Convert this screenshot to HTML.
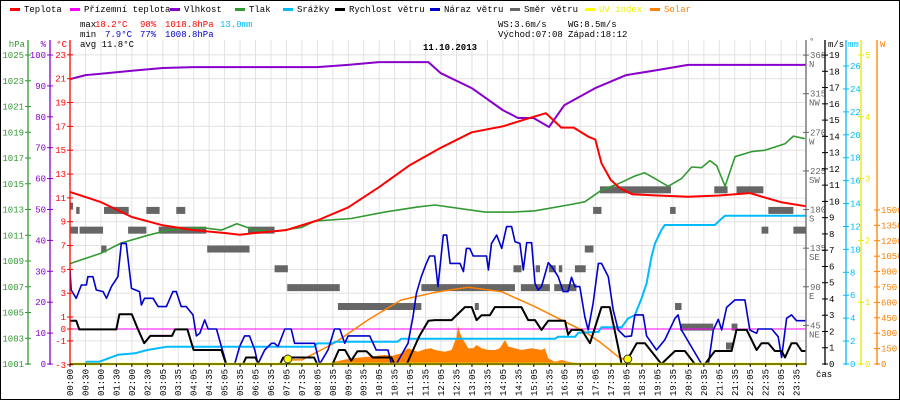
<!DOCTYPE html>
<html><head><meta charset="utf-8"><style>
body{margin:0;background:#fff}
#wrap{position:relative;width:898px;height:398px;border:1px solid #000;overflow:hidden;background:#fff}
svg text{font-family:"Liberation Mono","DejaVu Sans Mono",monospace;font-size:9px}
</style></head><body>
<div id="wrap">
<svg id="c" width="900" height="400" viewBox="0 0 900 400" style="position:absolute;left:-1px;top:-1px"></svg>
</div>
<script>
// ---- data ----
const timeLabels=["00:00","00:30","01:00","01:30","02:00","02:30","03:05","03:35","04:05","04:35","05:05","05:35","06:05","06:35","07:05","07:35","08:05","08:35","09:05","09:35","10:05","10:35","11:05","11:35","12:05","12:35","13:05","13:35","14:05","14:35","15:05","15:35","16:05","16:35","17:05","17:35","18:05","18:35","19:05","19:35","20:05","20:35","21:05","21:35","22:05","22:35","23:05","23:35"];
const tempH=[0,1,2,3,4,5,5.5,6,7,8,9,10,11,12,13,14,15,15.4,15.9,16.3,16.8,17.0,17.2,17.5,17.8,18.2,19,20,21,22,23,23.8];
const tempV=[11.5,10.65,9.4,8.7,8.3,8.05,7.9,8.05,8.3,9.1,10.2,11.9,13.75,15.2,16.5,17.0,17.8,18.1,16.9,16.9,16.1,15.9,13.9,12.5,11.8,11.3,11.2,11.1,11.2,11.4,10.65,10.3];
const appH=[0,23.8];
const appV=[0,0];
const humH=[0,0.5,1,2,3,4,5,6,7,8,9,10,11,11.6,12,13,14,14.5,15,15.5,16,17,18,19,20,23.8];
const humV=[92.2,93.5,93.9,94.9,95.8,96.1,96.1,96.1,96.1,96.1,96.8,97.7,97.7,97.7,94.1,89.3,82.2,79.6,79.6,76.7,83.8,89.3,93.5,95.1,96.8,96.8];
const presH=[0,1,1.66,2.52,3.17,4.25,4.9,5.4,5.98,6.6,7.49,7.92,9.1,10.18,11.26,11.81,13.43,14.35,15.05,16.12,16.66,17.2,17.74,18.28,18.6,18.93,19.36,19.79,20.12,20.44,20.71,20.93,21.2,21.52,22.06,22.49,23.14,23.41,23.78];
const presV=[1008.8,1009.6,1010.4,1011.0,1011.4,1011.6,1011.4,1011.9,1011.4,1011.3,1011.6,1012.1,1012.3,1012.8,1013.2,1013.35,1012.8,1012.8,1012.9,1013.35,1013.6,1014.5,1015.0,1015.6,1015.85,1015.4,1014.8,1015.4,1016.3,1016.25,1016.8,1016.4,1014.8,1017.1,1017.5,1017.6,1018.1,1018.7,1018.5];
const rainH=[0.48,0.55,0.95,1.55,2.1,2.5,3.15,4.0,7.9,8.0,8.5,8.6,10.6,10.72,11.81,15.7,15.8,16.35,16.45,17.1,17.2,17.85,18.06,18.28,18.5,18.66,18.82,18.93,19.14,19.25,20.87,21.09,21.2,23.8];
const rainV=[0,0.2,0.2,0.8,0.93,1.22,1.51,1.51,1.51,1.8,1.8,1.95,1.95,2.2,2.2,2.2,2.38,2.38,2.73,2.8,3.2,3.2,3.98,4.27,5.73,7.04,9.36,10.5,11.7,12.13,12.13,12.7,12.94,12.94];
const wsH=[0,0.2,0.3,1.5,1.6,2.0,2.2,2.4,2.6,3.3,3.4,3.8,4.0,4.9,5.05,5.6,5.7,6.0,6.1,6.8,6.9,7.9,8.0,8.5,8.7,8.9,9.1,9.3,9.6,9.8,10.4,10.5,10.9,11.3,11.6,11.81,12.35,12.78,13.0,13.16,13.32,13.59,13.75,14.61,14.83,15.05,15.26,15.48,16.02,16.12,16.23,16.56,16.83,17.2,17.47,17.69,17.85,17.96,18.34,18.61,19.14,19.58,19.9,20.22,20.55,20.87,21.41,21.57,21.9,22.22,22.38,22.6,22.81,23.03,23.14,23.35,23.51,23.68,23.8];
const wsV=[2.66,2.66,2.13,2.13,3.06,3.06,2.13,1.28,1.73,1.73,2.13,2.13,0.86,0.86,0,0,0.4,0.4,0,0,0.4,0.4,0,0,0.86,0.86,0.2,0.78,0.78,0.4,0.4,0,0,1.7,2.66,2.7,2.7,3.5,3.5,2.7,3.0,3.0,3.5,3.5,2.7,2.7,2.1,2.66,2.66,1.8,2.1,2.1,1.28,3.5,3.5,1.5,0,0,1.28,1.28,0,0.8,0.8,0,0,0.8,0.8,2.1,2.1,0.86,1.28,1.28,0.8,0.8,0.4,1.28,1.28,0.8,0.8];
const wgH=[0,0.04,0.2,0.37,0.53,0.58,0.74,0.85,1.07,1.18,1.34,1.55,1.66,1.82,1.99,2.25,2.31,2.41,2.69,2.85,3.12,3.33,3.44,3.6,3.76,3.98,4.09,4.2,4.36,4.47,4.74,4.9,5.06,5.33,5.49,5.65,5.81,5.98,6.08,6.3,6.52,6.62,6.73,6.95,7.16,7.27,7.92,8.08,8.35,8.56,8.73,8.89,9.0,9.7,9.91,10.29,10.4,10.56,10.94,11.1,11.21,11.37,11.53,11.64,11.8,11.91,12.08,12.19,12.3,12.62,12.73,12.83,12.94,13.05,13.48,13.54,13.64,13.81,13.91,13.97,14.13,14.29,14.4,14.56,14.67,14.78,14.94,15.05,15.15,15.26,15.48,15.59,15.8,15.96,16.12,16.23,16.34,16.5,16.66,16.77,16.93,17.1,17.2,17.42,17.58,17.74,17.96,18.17,18.28,18.55,18.66,18.98,19.25,19.58,19.68,19.79,20.17,20.44,20.66,20.82,20.98,21.09,21.25,21.52,21.84,22.0,22.22,22.27,22.71,22.92,23.03,23.19,23.35,23.51,23.8];
const wgV=[5.78,4.55,4.04,4.86,4.86,5.37,5.37,4.55,4.45,4.04,4.76,5.37,7.42,7.42,4.65,4.45,3.63,4.04,4.04,3.53,3.53,4.45,4.45,3.53,3.53,3.02,1.73,1.89,2.71,2.15,2.15,1.07,0,0,1.07,1.73,1.73,0.86,0,0.86,1.27,1.27,1.07,2.15,2.15,1.27,1.27,0,0.86,2.15,2.15,1.27,1.73,1.73,0.86,0.86,0,0,1.27,2.91,4.35,5.37,6.19,6.64,6.64,4.76,7.93,7.93,6.19,6.19,5.68,7.11,7.11,6.64,6.64,5.78,7.42,7.93,7.42,7.11,8.45,8.45,7.52,7.42,5.78,7.46,7.46,4.96,4.55,4.76,6.23,5.99,5.37,4.45,4.45,5.33,4.76,4.76,2.91,2.09,3.73,6.19,6.19,5.37,3.32,2.09,1.68,1.73,3.02,3.02,1.73,0.86,1.48,2.81,3.02,2.09,0.86,0,0,2.09,2.75,2.09,3.48,3.94,3.94,2.09,1.89,2.15,2.15,1.68,0.4,2.81,3.02,2.66,2.66];
const solarH=[7.49,8.35,8.56,9.1,9.64,10.18,10.45,10.72,10.94,11.26,11.48,11.69,11.81,12.13,12.35,12.51,12.56,12.62,12.73,12.89,13.05,13.16,13.32,13.54,13.75,13.91,14.08,14.18,14.4,14.61,14.94,15.26,15.37,15.48,15.69,15.91,16.12,16.34,16.56,16.99,17.42,17.47];
const solarV=[0,5,22,55,71,88,80,104,153,120,143,153,136,120,136,266,370,299,234,153,153,185,153,136,136,153,234,170,153,136,153,136,153,55,22,39,22,12,7,4,3,0];
const solTheoH=[7.05,7.5,8.56,9.64,10.72,11.91,12.89,13.97,15.05,16.12,16.66,17.2,17.74,18.1];
const solTheoV=[40,40,204,428,623,704,747,704,558,396,315,202,71,20];
const uvH=[0,23.8];
const uvV=[0,0];
const dirStart=[0,0.2,1.1,2.47,3.44,0.02,0.31,1.88,2.87,5.76,1.01,4.44,6.62,7.03,11.37,8.67,17.15,20.85,21.57,16.93,19.42,22.6,22.38,23.41,16.66,14.35,15.07,15.5,15.82,16.34,11.81,14.59,15.67,13.1,19.58,19.74,21.41,21.23];
const dirEnd=[0.1,0.31,1.9,2.9,3.73,0.26,1.07,2.47,4.41,6.62,1.18,5.81,7.05,8.73,11.91,11.37,19.45,21.28,22.44,17.2,19.6,23.41,22.6,23.84,16.94,14.61,15.21,15.72,15.93,16.69,14.4,15.53,16.39,13.23,19.79,20.82,21.6,21.44];
const dirDeg=[184,179,179,179,179,156,156,156,156,156,134,134,111,89,89,67,203,203,203,179,179,179,156,156,134,111,111,111,111,111,89,89,89,67,67,43,43,21];
const sunEvents=[7.05,18.05];
const hpaTicks=[1001,1003,1005,1007,1009,1011,1013,1015,1017,1019,1021,1023,1025];
const humTicks=[0,10,20,30,40,50,60,70,80,90,100];
const tTicks=[23,21,19,17,15,13,11,9,7,5,3,1,0,-1,-3];
const dirTicks=[45,90,135,180,225,270,315,360];
const dirNames=["NE","E","SE","S","SW","W","NW","N"];
const msTicks=[0,1,2,3,4,5,6,7,8,9,10,11,12,13,14,15,16,17,18,19];
const mmTicks=[0,2,4,6,8,10,12,14,16,18,20,22,24,26];
const uvTicks=[0,1,2,3,4,5];
const wTicks=[0,150,300,450,600,750,900,1050,1200,1350,1500];

// ---- scales ----
const X0=70,X1=806;
const xH=h=>Math.min(X1,X0+h*30.9);
const xI=i=>X0+i*15.46;
const yT=t=>329-t*11.92;
const yP=p=>364-(p-1001)*12.875;
const yHu=v=>364-v*3.09;
const yMs=v=>364-v*16.26;
const yMm=v=>364-v*11.46;
const yUv=v=>364-v*61.8;
const ySol=v=>364-v*0.1027;
const yDir=d=>364-d*0.858;

const svg=document.getElementById('c');
const NS='http://www.w3.org/2000/svg';
function mk(tag,attrs,parent){const e=document.createElementNS(NS,tag);for(const k in attrs)e.setAttribute(k,attrs[k]);(parent||svg).appendChild(e);return e;}
function txt(x,y,s,fill,anchor,extra){const e=mk('text',Object.assign({x:x,y:y,fill:fill||'#000','text-anchor':anchor||'start'},extra||{}));e.textContent=s;return e;}

// grid
const grid=mk('g',{});


timeLabels.forEach((l,i)=>{const ln=mk('line',{x1:xI(i),x2:xI(i),y1:40,y2:364,stroke:'#e4e0e0','stroke-width':1},grid);

});
tTicks.forEach(t=>{if(t===0)return;const ln=mk('line',{x1:X0,x2:X1,y1:yT(t),y2:yT(t),stroke:'#e4e0e0','stroke-width':1},grid);

});

// clip
const defs=mk('defs',{});
const cp=mk('clipPath',{id:'pc'},defs);mk('rect',{x:X0,y:40,width:X1-X0,height:326},cp);
const plot=mk('g',{'clip-path':'url(#pc)'});



function pts(H,V,ys){return H.map((h,i)=>xH(h).toFixed(1)+','+ys(V[i]).toFixed(1)).join(' ');}

// solar area
const sa=mk('polygon',{points:xH(solarH[0])+',364 '+pts(solarH,solarV,ySol)+' '+xH(solarH[solarH.length-1])+',364',fill:'#ff8000'},plot);



// wind direction bars
dirDeg.forEach((d,i)=>{const r=mk('rect',{x:xH(dirStart[i]),y:yDir(d)-3.5,width:Math.max(3,xH(dirEnd[i])-xH(dirStart[i])),height:7,fill:'#666'},plot);

});

function series(H,V,ys,color,w,name){const p=mk('polyline',{points:pts(H,V,ys),fill:'none',stroke:color,'stroke-width':w,'stroke-linejoin':'round'},plot);

return p;}
series(appH,appV,yT,'#ff00ff',1,'apparent-temperature-line');
series(solTheoH,solTheoV,ySol,'#ff8000',1.5,'solar-theoretical-line');
series(rainH,rainV,yMm,'#00bbff',2,'precipitation-line');
series(presH,presV,yP,'#339933',1.6,'pressure-line');
series(humH,humV,yHu,'#8800cc',2,'humidity-line');
series(tempH,tempV,yT,'#ff0000',2,'temperature-line');
series(wgH,wgV,yMs,'#0000cc',1.6,'wind-gust-line');
series(wsH,wsV,yMs,'#000000',2,'wind-speed-line');
series(uvH,uvV,yUv,'#ffff00',2.5,'uv-index-line');
sunEvents.forEach(h=>{const c=mk('circle',{cx:xH(h),cy:359,r:4,fill:'#ffff00',stroke:'#333','stroke-width':1});

});

// axes
function axis(x,color,ticks,yf,side,name,fmt){const g=mk('g',{});


mk('line',{x1:x,x2:x,y1:40,y2:365,stroke:color,'stroke-width':1.3},g);
ticks.forEach((t,i)=>{const y=yf(t);mk('line',{x1:x-3,x2:x+3,y1:y,y2:y,stroke:color},g);
const s=fmt?fmt(t,i):String(t);
if(side==='l')txt(x-4,y+3,s,color,'end');else txt(x+4,y+3,s,color,'start');});return g;}
axis(28,'#339933',hpaTicks,yP,'l','pressure-axis');
axis(50,'#8800cc',humTicks,yHu,'l','humidity-axis');
axis(70,'#ff0000',tTicks,yT,'l','temperature-axis');
axis(806,'#666',dirTicks,yDir,'r','wind-direction-axis');
dirTicks.forEach((d,i)=>{txt(809,yDir(d)+12,dirNames[i],'#666','start');});
axis(825,'#000',msTicks,yMs,'r','wind-speed-axis');
axis(846,'#00bbff',mmTicks,yMm,'r','precipitation-axis');
axis(861,'#e8e800',uvTicks,yUv,'r','uv-axis');
axis(877,'#ff8000',wTicks,ySol,'r','solar-axis');
txt(25,47,'hPa','#339933','end');txt(46,47,'%','#8800cc','end');txt(67,47,'°C','#ff0000','end');
txt(809,44,'°','#666');txt(828,47,'m/s','#000');txt(848,47,'mm','#00bbff');txt(880,47,'W','#ff8000');
txt(816,377,'čas','#000');
mk('line',{x1:X0,x2:X1,y1:364,y2:364,stroke:'#000','stroke-width':1});

// x labels
timeLabels.forEach((l,i)=>{const x=xI(i);mk('line',{x1:x,x2:x,y1:364,y2:367,stroke:'#000'});
const t=txt(0,0,l,'#000','end',{transform:'translate('+(x+3)+',369) rotate(-90)'});

});

// legend
const leg=[['Teplota','#ff0000',10],['Přízemní teplota','#ff00ff',70],['Vlhkost','#8800cc',170],['Tlak','#339933',235],['Srážky','#00bbff',283],['Rychlost větru','#000',335],['Náraz větru','#0000cc',430],['Směr větru','#666',510],['UV index','#ffff00',585],['Solar','#ff8000',650]];
leg.forEach(([n,c,x])=>{const g=mk('g',{});


mk('rect',{x:x,y:8,width:10,height:3,fill:c},g);
const t=txt(x+14,12,n,'#000','start');g.appendChild(t);
if(c==='#ffff00')t.setAttribute('fill','#f0f000');if(c==='#ff8000')t.setAttribute('fill','#ff8000');});

// stats
const st=mk('g',{});


function tl(x,y,s,c){const t=txt(x,y,s,c);st.appendChild(t);}
tl(80,27,'max','#000');tl(95,27,'18.2°C','#ff0000');tl(140,27,'98%','#ff0000');tl(165,27,'1018.8hPa','#ff0000');tl(220,27,'13.0mm','#00bbff');
tl(80,37,'min','#000');tl(105,37,'7.9°C','#0000cc');tl(140,37,'77%','#0000cc');tl(165,37,'1008.8hPa','#0000cc');
tl(80,47,'avg 11.8°C','#000');
tl(498,27,'WS:3.6m/s','#000');tl(568,27,'WG:8.5m/s','#000');
tl(498,37,'Východ:07:08','#000');tl(568,37,'Západ:18:12','#000');
const title=txt(450,50,'11.10.2013','#000','middle',{'font-weight':'bold','font-size':'13px'});


</script>
</body></html>
